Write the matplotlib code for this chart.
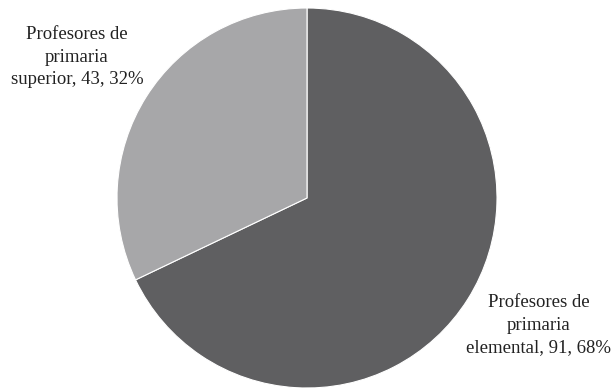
import matplotlib.pyplot as plt

labels = ['Profesores de\nprimaria\nelemental, 91, 68%',
          'Profesores de\nprimaria\nsuperior, 43, 32%']
values = [91, 43]
colors = ['#5f5f61', '#a7a7a9']

plt.rcParams['font.family'] = ['Liberation Serif', 'DejaVu Serif']

fig = plt.figure(figsize=(6.13, 3.90), dpi=100)
ax = fig.add_axes([0, 0, 1, 1])

ax.pie(values, colors=colors, startangle=90, counterclock=False,
       center=(307, 192), radius=190,
       wedgeprops=dict(edgecolor='white', linewidth=0.8))

ax.set_xlim(0, 613)
ax.set_ylim(0, 390)
ax.set_aspect('equal')
ax.axis('off')

# label positions in pixel space
ax.text(539, 65, labels[0], ha='center', va='center', fontsize=13.5,
        color='#222222', linespacing=1.4)
ax.text(77, 333, labels[1], ha='center', va='center', fontsize=13.5,
        color='#222222', linespacing=1.4)

fig.savefig('out.png', dpi=100, facecolor='white')
